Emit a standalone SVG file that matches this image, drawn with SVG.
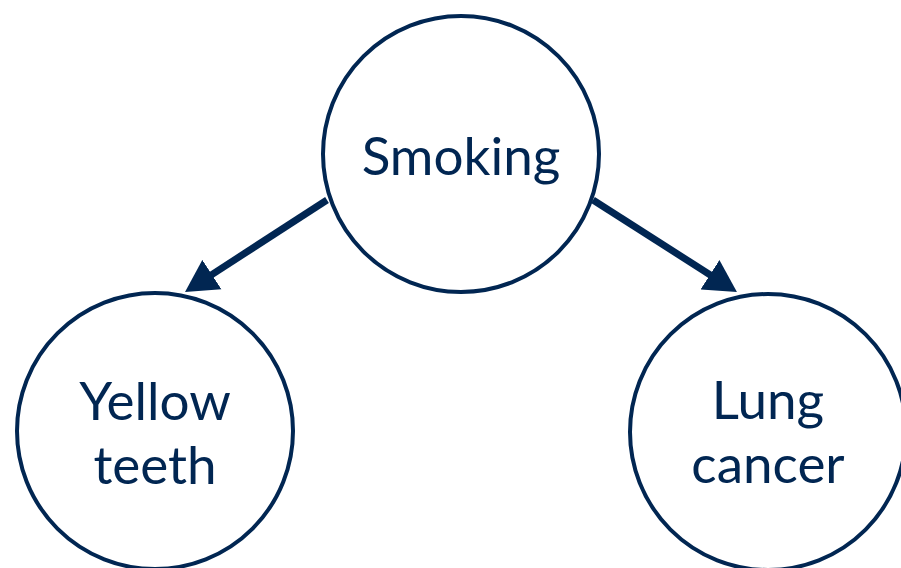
<svg xmlns="http://www.w3.org/2000/svg" width="901" height="568" viewBox="0 0 901 568">
  <style>
    .node circle { fill: #ffffff; stroke: #012652; stroke-width: 4; }
    .node text { font-family: Lato, "Noto Sans", sans-serif; font-size: 53px; fill: #012652; text-anchor: middle; }
    .edge { stroke: #012652; stroke-width: 7; fill: none; marker-end: url(#arrow); }
  </style>
  <defs>
    <!-- filled triangular arrowhead; tip sits 20px past the line end -->
    <marker id="arrow" markerUnits="userSpaceOnUse" markerWidth="36" markerHeight="36" refX="12" refY="18" orient="auto" viewBox="0 0 36 36">
      <path d="M0,0.5 L32,18 L0,35.5 Z" fill="#012652"/>
    </marker>
  </defs>
  <rect width="901" height="568" fill="#ffffff"/>

  <g id="smoking" class="node">
    <circle cx="461" cy="154" r="138"/>
    <text x="461" y="175">Smoking</text>
  </g>

  <g id="yellow-teeth" class="node">
    <circle cx="155" cy="431" r="138"/>
    <text x="155" y="420">Yellow</text>
    <text x="155" y="484">teeth</text>
  </g>

  <g id="lung-cancer" class="node">
    <circle cx="768" cy="432" r="138"/>
    <text x="768" y="419">Lung</text>
    <text x="768" y="483">cancer</text>
  </g>

  <g id="connectors">
    <line class="edge" x1="327" y1="200" x2="201.8" y2="281.1"/>
    <line class="edge" x1="593" y1="200" x2="720.1" y2="281.2"/>
  </g>
</svg>
